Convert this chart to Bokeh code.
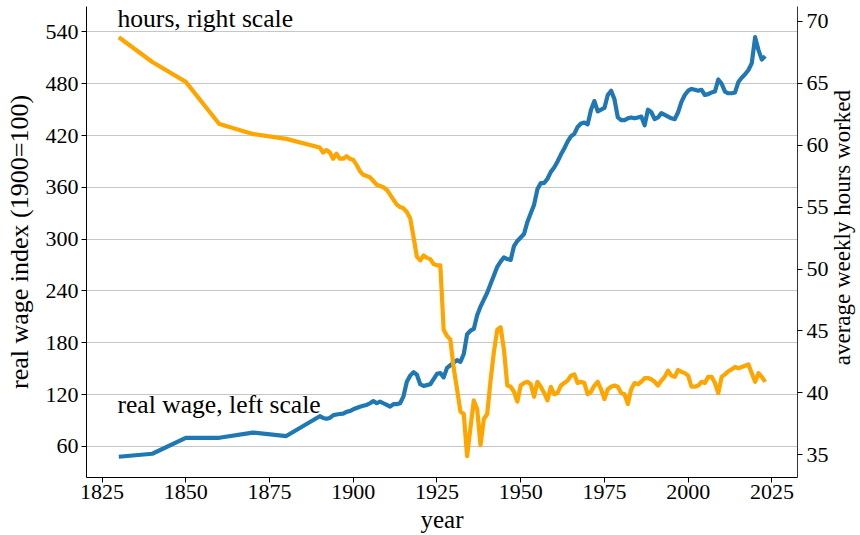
import math
from bokeh.plotting import figure
from bokeh.layouts import row
from bokeh.models import Range1d, LinearAxis, FixedTicker, Label
from bokeh.embed import file_html
from bokeh.resources import INLINE

# ---------------- data ----------------
years = [1830, 1840, 1850, 1860, 1870, 1880] + list(range(1890, 2024))

wage = [
    48, 51.5, 70, 70, 76, 72,                                   # 1830-1880
    95, 93, 92, 93, 96, 97, 97.5, 98, 100, 101,                 # 1890s
    103, 104.5, 106, 107, 108, 110, 112.5, 110, 112, 110,       # 1900s
    108, 106, 109, 109, 110, 118, 135, 142, 146, 143,           # 1910s
    132, 130, 131, 132, 138, 144, 145, 140, 151, 154,           # 1920s
    157, 160, 158, 167, 190, 194, 196, 212, 222, 230,           # 1930s
    238, 248, 258, 268, 274, 279, 277, 276, 292, 298,           # 1940s
    302, 306, 320, 330, 340, 358, 365, 365, 370, 378,           # 1950s
    383, 390, 398, 405, 413, 419, 422, 430, 434, 435,           # 1960s
    433, 450, 460, 448, 450, 452, 467, 472, 462, 441,           # 1970s
    438, 438, 440, 441, 440, 441, 442, 432, 450, 447,           # 1980s
    439, 441, 446, 444, 442, 440, 439, 447, 459, 467,           # 1990s
    472, 474, 473, 472, 473, 467, 468, 470, 471, 485,           # 2000s
    480, 471, 469, 469, 470, 482, 487, 491, 496, 504,           # 2010s
    534, 519, 508, 512,                                         # 2020-2023
]

hours = [
    68.7, 66.7, 65.1, 61.7, 60.9, 60.5,                         # 1830-1880
    59.8, 59.4, 59.6, 59.4, 58.9, 59.3, 58.9, 58.9, 59.1, 58.9, # 1890s
    58.8, 58.4, 57.9, 57.6, 57.5, 57.4, 57.1, 56.8, 56.7, 56.6, # 1900s
    56.4, 56.0, 55.6, 55.2, 55.0, 54.9, 54.6, 54.1, 52.6, 51.0, # 1910s
    50.7, 51.1, 50.9, 50.8, 50.4, 50.3, 50.3, 45.1, 44.6, 44.3, # 1920s
    42.0, 40.3, 38.5, 38.3, 34.9, 37.2, 39.4, 38.7, 35.8, 37.9, # 1930s
    38.3, 41.0, 43.3, 45.1, 45.3, 43.5, 40.6, 40.5, 40.1, 39.3, # 1940s
    40.6, 40.8, 40.9, 40.7, 39.7, 40.9, 40.5, 40.0, 39.4, 40.5, # 1950s
    39.9, 40.0, 40.6, 40.8, 41.0, 41.4, 41.5, 40.8, 40.9, 40.8, # 1960s
    39.9, 40.1, 40.6, 40.9, 40.3, 39.5, 40.3, 40.5, 40.6, 40.5, # 1970s
    40.0, 39.9, 39.1, 40.3, 40.8, 40.7, 40.9, 41.2, 41.2, 41.1, # 1980s
    40.9, 40.6, 41.0, 41.3, 41.8, 41.4, 41.3, 41.85, 41.7, 41.6,# 1990s
    41.4, 40.5, 40.5, 40.6, 40.9, 40.8, 41.3, 41.3, 40.8, 40.0, # 2000s
    41.3, 41.5, 41.75, 41.9, 42.1, 42.0, 42.1, 42.2, 42.3, 41.6,# 2010s
    40.9, 41.6, 41.3, 40.9,                                     # 2020-2023
]

x_ticks = [1825, 1850, 1875, 1900, 1925, 1950, 1975, 2000, 2025]
wage_ticks = [60, 120, 180, 240, 300, 360, 420, 480, 540]
hours_ticks = [35, 40, 45, 50, 55, 60, 65, 70]

FONT = "Liberation Serif"
TICK_FS = "22px"
NOTE_FS = "25.6px"
BLUE = "#1f77b4"
ORANGE = "orange"

W1, W2, H = 831, 29, 535
TOP, BOTTOM = 6, 54

p = figure(width=W1, height=H, output_backend="svg", toolbar_location=None,
           x_range=Range1d(1820.35, 2032.65), y_range=Range1d(24, 569.5),
           min_border_left=86, min_border_right=31, min_border_top=TOP,
           min_border_bottom=BOTTOM, title=None)
p.extra_y_ranges = {"hours": Range1d(33.18, 71.18)}
p.outline_line_color = None
p.background_fill_color = "white"
p.border_fill_color = "white"

p.xgrid.visible = False
p.ygrid.grid_line_color = "#c6c6c6"
p.ygrid.grid_line_width = 1

right_axis = LinearAxis(y_range_name="hours")
p.add_layout(right_axis, "right")

xaxis = p.below[0]
yaxis = p.left[0]

xaxis.ticker = FixedTicker(ticks=x_ticks)
yaxis.ticker = FixedTicker(ticks=wage_ticks)
right_axis.ticker = FixedTicker(ticks=hours_ticks)

for ax in (xaxis, yaxis, right_axis):
    ax.major_label_text_font = FONT
    ax.major_label_text_font_size = TICK_FS
    ax.major_label_text_color = "black"
    ax.axis_line_color = "black"
    ax.axis_line_width = 1
    ax.major_tick_line_color = "black"
    ax.major_tick_out = 5
    ax.major_tick_in = 0
    ax.minor_tick_out = 0
    ax.minor_tick_in = 0
    ax.minor_tick_line_color = None
    ax.axis_label_text_font = FONT
    ax.axis_label_text_font_style = "normal"
    ax.axis_label_text_color = "black"

xaxis.major_label_standoff = 2
yaxis.major_label_standoff = 3
right_axis.major_label_standoff = 4
right_axis.axis_line_color = "#333333"

yaxis.axis_label = "real wage index (1900=100)"
yaxis.axis_label_text_font_size = "26px"
yaxis.axis_label_standoff = 9

xaxis.axis_label = "year"
xaxis.axis_label_text_font_size = "25px"
xaxis.axis_label_standoff = 4

p.line(years, wage, color=BLUE, line_width=4.2, line_join="round")
p.line(years, hours, color=ORANGE, line_width=4.2, line_join="round",
       y_range_name="hours")

def lab(fig, size=NOTE_FS, **kw):
    l = Label(text_font=FONT, text_font_size=size, text_color="black", **kw)
    fig.add_layout(l)

lab(p, x=1829.6, y=70.22, y_range_name="hours", text="hours, right scale",
    text_align="left", text_baseline="alphabetic")
lab(p, x=1829.6, y=108, text="real wage, left scale",
    text_align="left", text_baseline="alphabetic")

# narrow strip on the right holding the right-hand axis title (reads upward)
p2 = figure(width=W2, height=H, output_backend="svg", toolbar_location=None,
            x_range=Range1d(0, W2), y_range=Range1d(BOTTOM, H - TOP),
            x_axis_type=None, y_axis_type=None, title=None,
            min_border_left=0, min_border_right=0, min_border_top=TOP,
            min_border_bottom=BOTTOM)
p2.outline_line_color = None
p2.xgrid.visible = False
p2.ygrid.visible = False
p2.background_fill_color = "white"
p2.border_fill_color = "white"
lab(p2, size="23px", x=11, y=306, text="average weekly hours worked",
    angle=math.pi / 2, text_align="center", text_baseline="alphabetic")

layout = row(p, p2, spacing=0)
open("out.html", "w").write(file_html(layout, INLINE))
